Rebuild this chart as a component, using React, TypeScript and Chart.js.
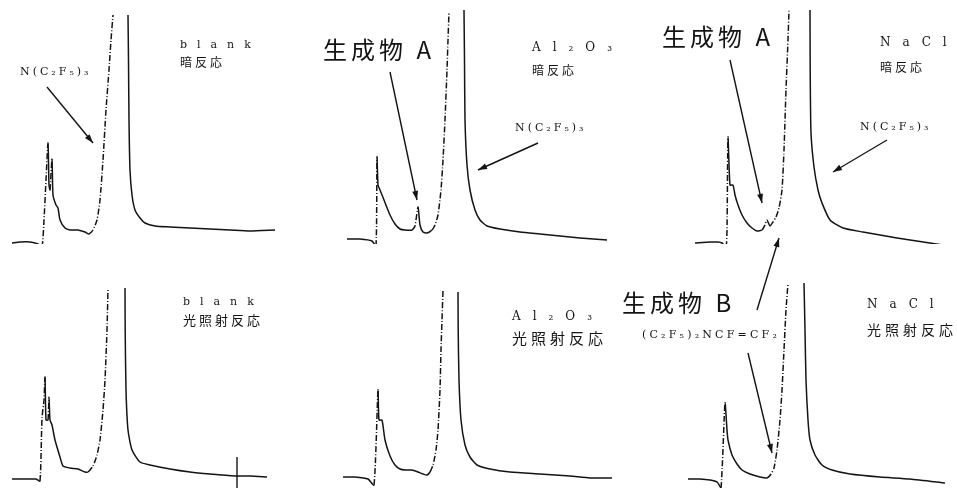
import React, { useEffect, useRef } from "react";
import { Chart, registerables } from "chart.js";

Chart.register(...registerables);

// Chromatogram traces: [retention time (min), detector signal (mV)]
// null signal = trace off scale (peak top beyond recorder range)
type P = [number, number | null];

const blankDark: P[] = [
  [1.2, 0.1], [2.0, 0.2], [3.0, 0.2], [3.8, 0.0], [4.2, -0.3], [4.4, 2.4], [4.6, 6.4],
  [4.8, 10.1], [4.9, 5.9], [5.0, 5.4], [5.2, 8.5], [5.3, 4.9], [5.6, 3.9], [5.8, 3.6],
  [6.0, 2.4], [6.5, 1.6], [7.0, 1.4], [7.8, 1.4], [8.5, 1.2], [8.9, 1.0], [9.3, 1.4],
  [9.7, 2.4], [10.0, 4.4], [10.3, 8.4], [10.6, 13.4], [10.9, 17.4], [11.1, 20.4], [11.3, 22.9],
  [12.0, null],
  [12.8, 22.9], [12.85, 18.4], [12.9, 12.4], [13.0, 7.4], [13.2, 4.9], [13.5, 3.4], [14.0, 2.6],
  [14.5, 2.1], [15.5, 1.8], [17.0, 1.7], [19.0, 1.6], [21.0, 1.5], [23.0, 1.4], [25.0, 1.3], [27.5, 1.4],
];

const al2o3Dark: P[] = [
  [2.8, 0.5], [4.1, 0.5], [5.3, 0.3], [5.7, -0.2], [5.8, 8.7], [5.9, 5.9], [6.1, 5.4],
  [6.5, 4.4], [7.1, 2.9], [7.6, 2.0], [8.1, 1.5], [8.6, 1.4], [9.3, 1.4], [9.6, 1.8],
  [9.9, 3.7], [10.1, 1.9], [10.4, 1.2], [10.8, 1.1], [11.3, 1.4], [11.6, 1.9], [11.9, 2.9],
  [12.2, 5.4], [12.4, 8.4], [12.6, 12.4], [12.8, 17.4], [12.9, 20.4], [13.0, 23.2],
  [13.8, null],
  [14.5, 23.4], [14.55, 18.4], [14.6, 12.4], [14.8, 7.9], [15.1, 5.4], [15.6, 3.4], [16.1, 2.4],
  [16.8, 1.8], [18.1, 1.5], [20.1, 1.2], [22.1, 1.0], [24.1, 0.8], [26.1, 0.6], [28.8, 0.4],
];

const naclDark: P[] = [
  [5.7, 0.1], [7.2, 0.2], [8.0, 0.2], [8.4, 0.1], [8.8, -0.3], [8.9, 1.4], [9.0, 10.7],
  [9.2, 5.9], [9.5, 5.9], [9.7, 4.9], [10.0, 3.9], [10.4, 2.9], [10.9, 2.1], [11.4, 1.6],
  [11.9, 1.3], [12.4, 1.4], [12.7, 1.9], [12.9, 2.4], [13.2, 1.8], [13.5, 2.2], [13.8, 2.7],
  [14.1, 3.6], [14.4, 5.4], [14.6, 9.4], [14.8, 15.4], [15.0, 20.4], [15.1, 23.4],
  [15.9, null],
  [17.2, 23.4], [17.22, 17.4], [17.3, 11.1], [17.6, 7.7], [18.0, 5.4], [18.4, 4.1], [19.2, 2.4],
  [20.5, 1.6], [22.5, 1.2], [25.9, 0.6], [30.5, -0.1],
];

const blankLight: P[] = [
  [1.2, 0.9], [2.5, 0.9], [3.6, 0.9], [4.0, 0.7], [4.2, 7.0], [4.4, 8.8], [4.5, 11.1],
  [4.6, 6.8], [4.8, 6.8], [4.9, 9.1], [5.0, 6.8], [5.2, 6.3], [5.5, 4.8], [6.0, 3.1],
  [6.3, 2.2], [7.0, 2.0], [7.8, 1.9], [8.5, 1.6], [8.8, 1.6], [9.3, 2.2], [9.7, 3.3],
  [10.0, 4.8], [10.3, 7.8], [10.5, 10.8], [10.7, 15.8], [10.8, 20.0],
  [11.6, null],
  [12.5, 20.0], [12.52, 15.8], [12.6, 9.8], [12.8, 5.8], [13.2, 3.8], [14.0, 2.6], [15.0, 2.3],
  [17.0, 1.9], [19.0, 1.6], [21.0, 1.4], [23.5, 1.2], [25.0, 1.2], [26.7, 1.1],
];

const al2o3Light: P[] = [
  [2.4, 1.1], [3.6, 1.1], [4.9, 0.9], [5.5, 0.3], [5.9, 9.8], [6.0, 6.8], [6.3, 6.8],
  [6.6, 4.8], [7.1, 3.2], [7.6, 2.3], [8.1, 1.9], [8.6, 1.8], [9.3, 1.8], [9.9, 1.6],
  [10.4, 1.4], [10.8, 1.3], [11.1, 1.6], [11.4, 2.3], [11.7, 3.8], [11.9, 5.8], [12.1, 9.8],
  [12.2, 13.8], [12.3, 16.8], [12.4, 19.8],
  [13.2, null],
  [13.9, 19.6], [13.92, 15.8], [14.0, 10.8], [14.2, 6.8], [14.6, 4.3], [15.1, 3.1], [15.8, 2.3],
  [17.1, 1.9], [19.1, 1.6], [22.1, 1.4], [25.1, 1.2], [27.1, 1.0], [29.3, 1.0],
];

const naclLight: P[] = [
  [5.0, 0.9], [6.2, 0.9], [7.2, 0.8], [7.9, 0.6], [8.3, 0.0], [8.7, 8.5], [8.9, 5.8],
  [9.0, 4.8], [9.4, 3.3], [9.9, 2.4], [10.4, 1.8], [11.2, 1.4], [12.2, 1.1], [12.9, 1.0],
  [13.3, 1.4], [13.6, 2.0], [13.9, 3.8], [14.2, 6.8], [14.4, 9.8], [14.6, 13.8], [14.8, 17.8],
  [15.0, 20.5],
  [15.8, null],
  [16.6, 20.5], [16.7, 15.8], [16.8, 10.8], [17.0, 6.8], [17.2, 4.8], [17.7, 3.3], [18.4, 2.3],
  [19.4, 1.8], [21.2, 1.4], [24.2, 1.1], [27.2, 0.9], [30.7, 0.5],
];

const series: P[][] = [blankDark, al2o3Dark, naclDark, blankLight, al2o3Light, naclLight];

const catalysts = ["blank", "Al₂O₃", "NaCl"];
const conditions = ["暗反応", "光照射反応"];
const reactant = "N(C₂F₅)₃";
const productA = "生成物 A";
const productB = "生成物 B";
const productBFormula = "(C₂F₅)₂NCF=CF₂";

const T_MAX = 31.9;
const V_MAX = 24.4;

const SERIF = '"DejaVu Serif", "Noto Sans CJK JP", serif';
const CJK = '"Noto Sans CJK JP", "Noto Sans", sans-serif';

// label placement: [panel, time, signal, text, fontSize, letterSpacing, family]
type Lbl = [number, number, number, string, number, number, string];
const labels: Lbl[] = [
  [0, 2.0, 17.2, reactant, 11, 3, SERIF],
  [0, 18.0, 19.9, catalysts[0], 11, 10, SERIF],
  [0, 18.0, 18.2, conditions[0], 12, 3, CJK],
  [1, 0.4, 19.4, productA, 24, 4, CJK],
  [1, 21.3, 19.6, catalysts[1], 12, 12, SERIF],
  [1, 21.3, 17.4, conditions[0], 12, 3, CJK],
  [1, 19.6, 11.6, reactant, 11, 3, SERIF],
  [2, 2.4, 20.7, productA, 24, 4, CJK],
  [2, 24.2, 20.1, catalysts[2], 12, 12, SERIF],
  [2, 24.2, 17.7, conditions[0], 12, 3, CJK],
  [2, 22.2, 11.7, reactant, 11, 3, SERIF],
  [3, 18.3, 18.6, catalysts[0], 11, 10, SERIF],
  [3, 18.3, 16.8, conditions[1], 13, 3, CJK],
  [4, 19.3, 17.1, catalysts[1], 12, 12, SERIF],
  [4, 19.3, 15.0, conditions[1], 15, 4, CJK],
  [5, -1.6, 18.5, productB, 24, 4, CJK],
  [5, 0.4, 15.3, productBFormula, 11, 3.2, SERIF],
  [5, 22.9, 18.3, catalysts[2], 12, 12, SERIF],
  [5, 22.9, 15.8, conditions[1], 14, 4, CJK],
];

// arrows: [fromPanel, t, v, toPanel, t, v, head]
type Arw = [number, number, number, number, number, number, boolean];
const arrows: Arw[] = [
  [0, 4.7, 15.7, 0, 9.3, 10.1, true],
  [1, 7.1, 17.2, 1, 9.8, 4.4, true],
  [1, 21.9, 10.1, 1, 15.9, 7.4, true],
  [2, 9.2, 18.4, 2, 12.4, 4.1, true],
  [2, 24.9, 10.4, 2, 19.5, 7.2, true],
  [5, 11.0, 13.5, 5, 13.4, 3.5, true],
  [5, 11.9, 17.8, 2, 14.1, 0.6, true],
  [3, 23.7, 3.1, 3, 23.7, 0.0, false],
];

const INK = "#141414";

function ids(i: number) {
  return { x: "x" + (i % 3), y: i < 3 ? "yTop" : "yBot" };
}

const annotate = {
  id: "annotate",
  afterDraw(chart: any) {
    const ctx = chart.ctx;
    const px = (p: number, t: number, v: number) => {
      const a = ids(p);
      return [chart.scales[a.x].getPixelForValue(t), chart.scales[a.y].getPixelForValue(v)];
    };
    ctx.save();
    ctx.fillStyle = INK;
    ctx.strokeStyle = INK;
    ctx.textBaseline = "middle";
    ctx.textAlign = "left";
    for (const [p, t, v, txt, size, sp, fam] of labels) {
      const [x, y] = px(p, t, v);
      ctx.font = `${size}px ${fam}`;
      (ctx as any).letterSpacing = `${sp}px`;
      ctx.fillText(txt, x, y);
    }
    (ctx as any).letterSpacing = "0px";
    ctx.lineWidth = 1.4;
    for (const [p0, t0, v0, p1, t1, v1, head] of arrows) {
      const [x0, y0] = px(p0, t0, v0);
      const [x1, y1] = px(p1, t1, v1);
      ctx.beginPath();
      ctx.moveTo(x0, y0);
      ctx.lineTo(x1, y1);
      ctx.stroke();
      if (head) {
        const ang = Math.atan2(y1 - y0, x1 - x0);
        const L = 9, W = 3;
        ctx.beginPath();
        ctx.moveTo(x1, y1);
        ctx.lineTo(x1 - L * Math.cos(ang) + W * Math.sin(ang), y1 - L * Math.sin(ang) - W * Math.cos(ang));
        ctx.lineTo(x1 - L * Math.cos(ang) - W * Math.sin(ang), y1 - L * Math.sin(ang) + W * Math.cos(ang));
        ctx.closePath();
        ctx.fill();
      }
    }
    ctx.restore();
  },
};

export default function App() {
  const ref = useRef<HTMLCanvasElement>(null);
  useEffect(() => {
    const scales: any = {};
    for (let c = 0; c < 3; c++) {
      scales["x" + c] = {
        type: "linear", position: "bottom", stack: "cols", stackWeight: 1,
        min: 0, max: T_MAX, display: false,
      };
    }
    // left-positioned stacked axes are laid out in reverse order: bottom row first
    scales.yBot = { type: "linear", position: "left", stack: "rows", stackWeight: 1, min: 0, max: V_MAX, display: false };
    scales.yTop = { type: "linear", position: "left", stack: "rows", stackWeight: 1, min: 0, max: V_MAX, display: false };

    const chart = new Chart(ref.current as HTMLCanvasElement, {
      type: "line",
      data: {
        datasets: series.map((s, i) => ({
          label: catalysts[i % 3] + " " + conditions[i < 3 ? 0 : 1],
          data: s.map(([x, y]) => ({ x, y })),
          xAxisID: ids(i).x,
          yAxisID: ids(i).y,
          borderColor: INK,
          borderWidth: 1.5,
          pointRadius: 0,
          tension: 0.2,
          spanGaps: false,
          fill: false,
          segment: {
            borderDash: (c: any) => (c.p1.parsed.y > c.p0.parsed.y + 0.3 ? [6, 2, 1, 2] : undefined),
          },
        })),
      },
      options: {
        animation: false,
        responsive: false,
        events: [],
        parsing: true,
        layout: { padding: 0 },
        plugins: { legend: { display: false }, tooltip: { enabled: false } },
        scales,
      } as any,
      plugins: [annotate],
    });
    return () => chart.destroy();
  }, []);
  return (
    <div style={{ position: "absolute", left: 0, top: 0, width: 957, height: 488, background: "#fff" }}>
      <canvas ref={ref} width={957} height={488} style={{ display: "block" }} />
    </div>
  );
}
